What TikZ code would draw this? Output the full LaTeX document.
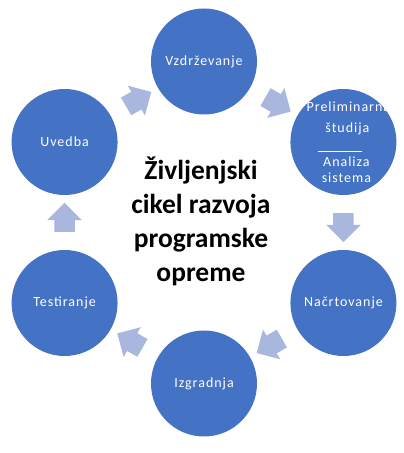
\documentclass[tikz,border=0pt]{standalone}
\usepackage{fontspec}
\setmainfont{Carlito}
\newfontfamily\phasefont[LetterSpace=7]{Carlito}
\usetikzlibrary{shapes.arrows,calc}

\definecolor{phaseblue}{HTML}{4472C4}
\definecolor{flowblue}{HTML}{A9B7DE}

\tikzset{
    phase/.style={circle, fill=phaseblue, minimum size=106pt, inner sep=0pt,
        text=white, font=\phasefont\fontsize{14}{16}\selectfont, align=center},
    phasetext/.style={text=white, font=\phasefont\fontsize{14}{16}\selectfont, inner sep=0pt},
    flow/.style={single arrow, fill=flowblue, draw=none, inner xsep=0pt, inner ysep=10pt,
        minimum height=29pt, single arrow head extend=7pt, single arrow tip angle=90}
}

\begin{document}
\begin{tikzpicture}[x=1pt, y=1pt]
            \useasboundingbox (0,0) rectangle (404,453);
            \coordinate (mid) at (204,230.5);

            \node[phase] (vzdr) at ($(mid)+(90:161)$) {Vzdrževanje};
            \node[phase] (prel) at ($(mid)+(30:161)$) {};
            \node[phase] (nacr) at ($(mid)+(-30:161)$) {Načrtovanje};
            \node[phase] (izgr) at ($(mid)+(-90:161)$) {Izgradnja};
            \node[phase] (test) at ($(mid)+(-150:161)$) {Testiranje};
            \node[phase] (uved) at ($(mid)+(150:161)$) {Uvedba};

            % text of the second phase, split by a line
            \node[phasetext, anchor=base west] (prelA) at ($(prel.center)+(-37,30)$) {Preliminarna};
            \node[phasetext, anchor=base] (prelB) at ($(prel.center)+(4,9)$) {študija};
            \draw[white, line width=0.6pt] ($(prel.center)+(-25,-9)$) -- ($(prel.center)+(19,-9)$);
            \node[phasetext, align=center, anchor=north] (prelC) at ($(prel.center)+(3,-15)$) {Analiza\\sistema};

            \node[flow, rotate=-30] (f1) at ($(vzdr)!0.5!(prel)$) {};
            \node[flow, rotate=-90] (f2) at ($(prel)!0.5!(nacr)$) {};
            \node[flow, rotate=-150] (f3) at ($(nacr)!0.5!(izgr)$) {};
            \node[flow, rotate=150] (f4) at ($(izgr)!0.5!(test)$) {};
            \node[flow, rotate=90] (f5) at ($(test)!0.5!(uved)$) {};
            \node[flow, rotate=30] (f6) at ($(uved)!0.5!(vzdr)$) {};

            \node[font=\bfseries\fontsize{27.5}{34}\selectfont, align=center] (title) at ($(mid)+(-3,1)$) {Življenjski\\cikel razvoja\\programske\\opreme};
        \end{tikzpicture}
\end{document}
